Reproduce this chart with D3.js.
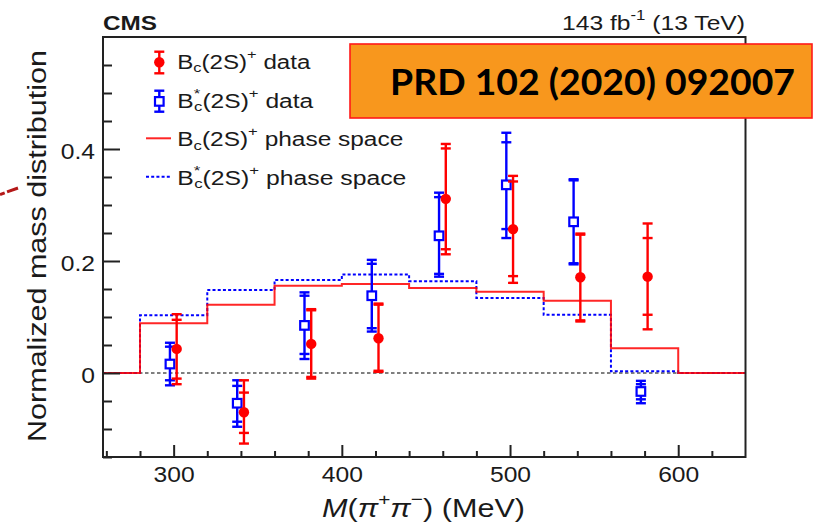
<!DOCTYPE html>
<html>
<head>
<meta charset="utf-8">
<script src="https://cdn.jsdelivr.net/npm/d3@7"></script>
<style>
  html, body { margin: 0; padding: 0; background: #fff; }
  svg { display: block; font-family: "Liberation Sans", Arial, Helvetica, sans-serif; }
</style>
</head>
<body>
<svg id="chart" width="819" height="524"></svg>
<script>
// Histogram bin edges (MeV) and the phase-space expectation in each bin
const binEdges = [280, 320, 360, 400, 440, 480, 520, 560, 600];
const bcPhaseSpace = [0.089, 0.122, 0.156, 0.159, 0.152, 0.145, 0.129, 0.044];
const bcStarPhaseSpace = [0.103, 0.148, 0.166, 0.176, 0.164, 0.134, 0.104, 0.003];

// Measured points at the bin centres: value, statistical and total uncertainty bounds
const massCenters = [300, 340, 380, 420, 460, 500, 540, 580];

const bcData      = [0.043, -0.070, 0.052, 0.062, 0.311, 0.257, 0.171, 0.172];
const bcStatLow   = [-0.010, -0.107, -0.007, 0.004, 0.221, 0.173, 0.094, 0.104];
const bcStatHigh  = [0.095, -0.035, 0.112, 0.122, 0.401, 0.342, 0.247, 0.241];
const bcTotalLow  = [-0.020, -0.126, -0.010, 0.002, 0.212, 0.161, 0.092, 0.078];
const bcTotalHigh = [0.105, -0.013, 0.114, 0.124, 0.409, 0.352, 0.249, 0.267];

const bcStarData      = [0.016, -0.054, 0.085, 0.138, 0.245, 0.336, 0.270, -0.033];
const bcStarStatLow   = [-0.013, -0.087, 0.034, 0.080, 0.177, 0.257, 0.196, -0.047];
const bcStarStatHigh  = [0.047, -0.023, 0.138, 0.195, 0.314, 0.412, 0.344, -0.020];
const bcStarTotalLow  = [-0.022, -0.096, 0.025, 0.074, 0.172, 0.241, 0.194, -0.054];
const bcStarTotalHigh = [0.054, -0.013, 0.144, 0.202, 0.322, 0.429, 0.346, -0.014];

// Axis ticks
const xTicksMajor = [300, 400, 500, 600];
const xTicksMinor = [260, 280, 320, 340, 360, 380, 420, 440, 460, 480, 520, 540, 560, 580, 620];
const yTicksMajor = [0, 0.2, 0.4];
const yTicksMinor = [-0.15, -0.1, -0.05, 0.05, 0.1, 0.15, 0.25, 0.3, 0.35, 0.45, 0.5, 0.55];

const RED = "#ff0000", BLUE = "#0000ff", INK = "#1a1a1a";

const svg = d3.select("#chart");
const frame = { left: 103, top: 37, right: 745.5, bottom: 457 };

const x = d3.scaleLinear().domain([258, 640]).range([frame.left, frame.right]);
const y = d3.scaleLinear().domain([-0.15, 0.6]).range([frame.bottom, frame.top]);

// ---- rich text helper (sub/superscripts via tspans) ----
function rich(parent, parts, o) {
  const t = parent.append("text")
    .attr("x", o.x).attr("y", o.y)
    .attr("font-size", o.size)
    .attr("fill", INK)
    .attr("text-anchor", o.anchor || "start");
  if (o.weight) t.attr("font-weight", o.weight);
  if (o.family) t.attr("font-family", o.family);
  let shift = 0;
  parts.forEach(p => {
    const s = t.append("tspan").text(p.t);
    let target = 0;
    if (p.sup) { s.attr("font-size", o.size * 0.68); target = -o.size * 0.5; }
    if (p.sub) { s.attr("font-size", o.size * 0.68); target = o.size * 0.16; }
    if (target !== shift) { s.attr("dy", target - shift); shift = target; }
    if (p.dx) s.attr("dx", p.dx);
    if (p.italic) s.attr("font-style", "italic");
  });
  if (o.width) t.attr("textLength", o.width).attr("lengthAdjust", "spacingAndGlyphs");
  return t;
}

// ---- zero reference line ----
svg.append("line")
  .attr("x1", x(258)).attr("x2", x(640))
  .attr("y1", y(0)).attr("y2", y(0))
  .attr("stroke", "#555").attr("stroke-width", 1.6)
  .attr("stroke-dasharray", "3.5,2.5");

// ---- phase-space histograms ----
function histPoints(vals) {
  const pts = [[258, 0]];
  vals.forEach((v, i) => pts.push([binEdges[i], v]));
  pts.push([binEdges[binEdges.length - 1], 0]);
  pts.push([640, 0]);
  return pts;
}
const stepLine = d3.line().x(d => x(d[0])).y(d => y(d[1])).curve(d3.curveStepAfter);

svg.append("path")
  .attr("d", stepLine(histPoints(bcStarPhaseSpace)))
  .attr("fill", "none").attr("stroke", BLUE).attr("stroke-width", 2)
  .attr("stroke-dasharray", "3,2.2");

svg.append("path")
  .attr("d", stepLine(histPoints(bcPhaseSpace)))
  .attr("fill", "none").attr("stroke", RED).attr("stroke-width", 2)
  .attr("opacity", 0.85);

// ---- data points with two-level error bars ----
function drawSeries(vals, sLo, sHi, tLo, tHi, color, shiftMeV, marker) {
  const g = svg.append("g");
  const cap = 5;
  massCenters.forEach((m, i) => {
    const cx = x(m + shiftMeV);
    g.append("line").attr("x1", cx).attr("x2", cx)
      .attr("y1", y(tLo[i])).attr("y2", y(tHi[i]))
      .attr("stroke", color).attr("stroke-width", 2.4);
    [sLo[i], sHi[i], tLo[i], tHi[i]].forEach(v => {
      g.append("line").attr("x1", cx - cap).attr("x2", cx + cap)
        .attr("y1", y(v)).attr("y2", y(v))
        .attr("stroke", color).attr("stroke-width", 2.4);
    });
    if (marker === "circle") {
      g.append("circle").attr("cx", cx).attr("cy", y(vals[i])).attr("r", 5.2).attr("fill", color);
    } else {
      g.append("rect").attr("x", cx - 4.3).attr("y", y(vals[i]) - 4.3)
        .attr("width", 8.6).attr("height", 8.6)
        .attr("fill", "#fff").attr("stroke", color).attr("stroke-width", 2.2);
    }
  });
}
drawSeries(bcStarData, bcStarStatLow, bcStarStatHigh, bcStarTotalLow, bcStarTotalHigh, BLUE, -2.2, "square");
drawSeries(bcData, bcStatLow, bcStatHigh, bcTotalLow, bcTotalHigh, RED, 1.8, "circle");

// ---- frame ----
svg.append("rect")
  .attr("x", frame.left).attr("y", frame.top)
  .attr("width", frame.right - frame.left).attr("height", frame.bottom - frame.top)
  .attr("fill", "none").attr("stroke", "#222").attr("stroke-width", 2);

// ---- axes (inward ticks) ----
const yAxisMajor = svg.append("g").attr("transform", `translate(${frame.left},0)`)
  .call(d3.axisLeft(y).tickValues(yTicksMajor).tickSize(-17).tickPadding(8)
    .tickFormat(d => d === 0 ? "0" : d3.format(".1f")(d)));
svg.append("g").attr("transform", `translate(${frame.left},0)`)
  .call(d3.axisLeft(y).tickValues(yTicksMinor).tickSize(-9).tickFormat(""));
const xAxisMajor = svg.append("g").attr("transform", `translate(0,${frame.bottom})`)
  .call(d3.axisBottom(x).tickValues(xTicksMajor).tickSize(-12).tickPadding(9));
svg.append("g").attr("transform", `translate(0,${frame.bottom})`)
  .call(d3.axisBottom(x).tickValues(xTicksMinor).tickSize(-6).tickFormat(""));

svg.selectAll(".domain").remove();
svg.selectAll(".tick line").attr("stroke", "#222").attr("stroke-width", 2);
svg.selectAll(".tick text")
  .attr("font-size", 22).attr("fill", INK)
  .attr("font-family", "'Liberation Sans', Arial, sans-serif");
yAxisMajor.selectAll(".tick text").attr("dy", "0.45em");
svg.selectAll(".tick text").each(function () {
  const w = this.getComputedTextLength();
  if (w > 0) d3.select(this).attr("textLength", w * 1.12).attr("lengthAdjust", "spacingAndGlyphs");
});

// ---- axis titles ----
rich(svg, [
  { t: "M", italic: true }, { t: "(" }, { t: "π", italic: true }, { t: "+", sup: true },
  { t: "π", italic: true }, { t: "−", sup: true }, { t: ")" }, { t: " (MeV)" }
], { x: 423.5, y: 517, size: 25, anchor: "middle", width: 203 });

svg.append("text")
  .attr("transform", "translate(46,246) rotate(-90)")
  .attr("text-anchor", "middle")
  .attr("font-size", 26).attr("fill", INK)
  .attr("textLength", 392).attr("lengthAdjust", "spacingAndGlyphs")
  .text("Normalized mass distribution");

// ---- header labels ----
rich(svg, [{ t: "CMS" }], { x: 103, y: 30, size: 21, weight: "bold", width: 54 });
rich(svg, [{ t: "143 fb" }, { t: "-1", sup: true }, { t: " (13 TeV)" }],
  { x: 745, y: 30, size: 20.5, anchor: "end", width: 183 });

// ---- legend ----
const legend = svg.append("g");
const legX = 159.3;
// red filled circle with error bar
legend.append("line").attr("x1", legX).attr("x2", legX).attr("y1", 51.7).attr("y2", 73.3)
  .attr("stroke", RED).attr("stroke-width", 2.4);
[51.7, 73.3].forEach(v => legend.append("line").attr("x1", legX - 5).attr("x2", legX + 5)
  .attr("y1", v).attr("y2", v).attr("stroke", RED).attr("stroke-width", 2.4));
legend.append("circle").attr("cx", legX).attr("cy", 62.3).attr("r", 5.2).attr("fill", RED);
// blue open square with error bar
legend.append("line").attr("x1", legX).attr("x2", legX).attr("y1", 90.7).attr("y2", 111.7)
  .attr("stroke", BLUE).attr("stroke-width", 2.4);
[90.7, 111.7].forEach(v => legend.append("line").attr("x1", legX - 5).attr("x2", legX + 5)
  .attr("y1", v).attr("y2", v).attr("stroke", BLUE).attr("stroke-width", 2.4));
legend.append("rect").attr("x", legX - 4.3).attr("y", 101.4 - 4.3).attr("width", 8.6).attr("height", 8.6)
  .attr("fill", "#fff").attr("stroke", BLUE).attr("stroke-width", 2.2);
// line samples
legend.append("line").attr("x1", 146).attr("x2", 171).attr("y1", 138.3).attr("y2", 138.3)
  .attr("stroke", RED).attr("stroke-width", 2).attr("opacity", 0.85);
legend.append("line").attr("x1", 146).attr("x2", 171).attr("y1", 176.7).attr("y2", 176.7)
  .attr("stroke", BLUE).attr("stroke-width", 2).attr("stroke-dasharray", "3,2.2");

const bc = [{ t: "B" }, { t: "c", sub: true }, { t: "(2S)" }, { t: "+", sup: true }];
const bcStar = [{ t: "B" }, { t: "*", sup: true }, { t: "c", sub: true, dx: -5 }, { t: "(2S)" }, { t: "+", sup: true }];
rich(legend, bc.concat([{ t: " data" }]), { x: 177.3, y: 69, size: 20, width: 133 });
rich(legend, bcStar.concat([{ t: " data" }]), { x: 177.3, y: 107.7, size: 20, width: 136 });
rich(legend, bc.concat([{ t: " phase space" }]), { x: 177.3, y: 146.3, size: 20, width: 226 });
rich(legend, bcStar.concat([{ t: " phase space" }]), { x: 177.3, y: 185, size: 20, width: 229 });

// ---- publication reference banner ----
svg.append("rect")
  .attr("x", 350).attr("y", 44).attr("width", 462).attr("height", 74)
  .attr("fill", "#f8971d").attr("stroke", "#ff1a1a").attr("stroke-width", 1.6);
svg.append("text")
  .attr("x", 592.5).attr("y", 95)
  .attr("text-anchor", "middle")
  .attr("font-family", "Lato, 'Open Sans', sans-serif")
  .attr("font-weight", 700).attr("font-size", 37).attr("fill", "#000")
  .attr("textLength", 405).attr("lengthAdjust", "spacingAndGlyphs")
  .text("PRD 102 (2020) 092007");

// ---- dashed pointer entering from the left edge ----
svg.append("line")
  .attr("x1", 0).attr("y1", 194.5).attr("x2", 18).attr("y2", 188)
  .attr("stroke", "#b41818").attr("stroke-width", 3)
  .attr("stroke-dasharray", "5,2.5,11,0");
</script>
</body>
</html>
